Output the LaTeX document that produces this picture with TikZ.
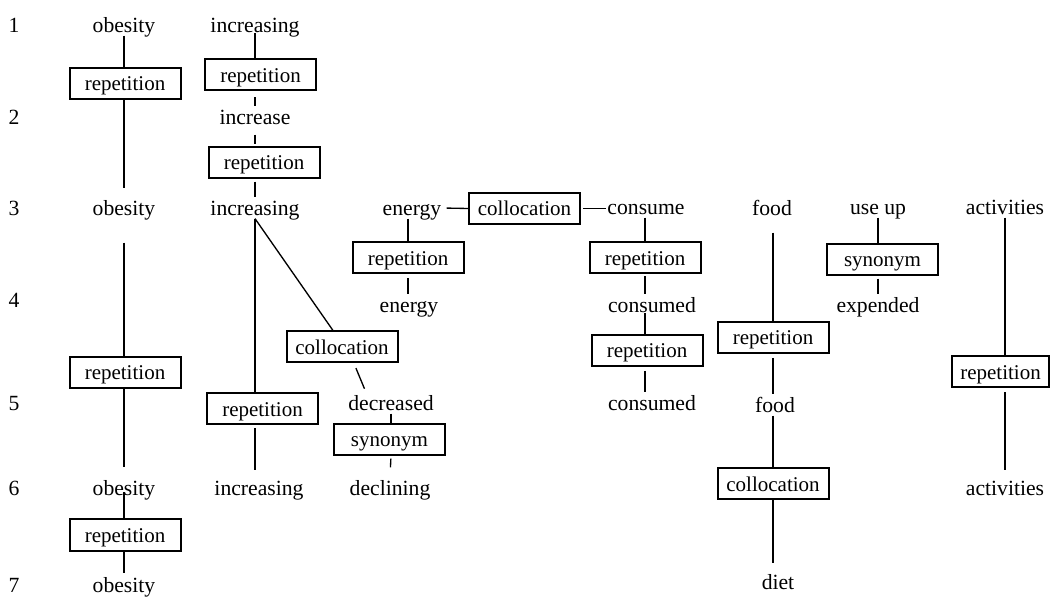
\documentclass[tikz,border=0pt]{standalone}
\usepackage{fontspec}
\setmainfont{Liberation Serif}
\begin{document}
\begin{tikzpicture}[x=0.75pt,y=-0.75pt,
  word/.style={inner sep=0.75pt, text height=13pt, text depth=1pt, font=\fontsize{16.25}{18}\selectfont},
  rel/.style={draw, line width=1.5pt, minimum width=83.25pt, minimum height=23.25pt, inner sep=0pt,
              text height=12.7pt, text depth=1.5pt, font=\fontsize{15.75}{18}\selectfont},
  link/.style={line width=1pt}]
\useasboundingbox (0,0) rectangle (1050,598);
% row numbers
\node[word] (n1) at (14,25) {1};
\node[word] (n2) at (14,117) {2};
\node[word] (n3) at (14,208) {3};
\node[word] (n4) at (14,300) {4};
\node[word] (n5) at (14,403) {5};
\node[word] (n6) at (14,488) {6};
\node[word] (n7) at (14,584) {7};
% words
\node[word] (ob1) at (124,25) {obesity};
\node[word] (ob3) at (124,208) {obesity};
\node[word] (ob6) at (124,487) {obesity};
\node[word] (ob7) at (124,584) {obesity};
\node[word] (in1) at (255,25) {increasing};
\node[word] (ie2) at (255,117) {increase};
\node[word] (in3) at (255,208) {increasing};
\node[word] (in6) at (259,487) {increasing};
\node[word] (dc5) at (391,403) {decreased};
\node[word] (dl6) at (390,487) {declining};
\node[word] (en3) at (412,208) {energy};
\node[word] (en4) at (409,305) {energy};
\node[word] (cs3) at (646,207) {consume};
\node[word] (cd4) at (652,305) {consumed};
\node[word] (cd5) at (652,403) {consumed};
\node[word] (fd3) at (772,208) {food};
\node[word] (fd5) at (775,405) {food};
\node[word] (dt7) at (778,581) {diet};
\node[word] (uu3) at (878,207) {use up};
\node[word] (ex4) at (878,305) {expended};
\node[word] (ac3) at (1005,207) {activities};
\node[word] (ac6) at (1005,487) {activities};
% relation boxes
\node[rel] (r1) at (125,83.5) {repetition};
\node[rel] (r2) at (260.5,75) {repetition};
\node[rel] (r3) at (264,162.5) {repetition};
\node[rel] (r4) at (125,372.5) {repetition};
\node[rel] (r5) at (262.5,409) {repetition};
\node[rel] (co1) at (342,347) {collocation};
\node[rel] (sy1) at (389.5,439.5) {synonym};
\node[rel] (r6) at (125,535) {repetition};
\node[rel] (co2) at (524.5,208.5) {collocation};
\node[rel] (r7) at (408,258) {repetition};
\node[rel] (r8) at (645,258) {repetition};
\node[rel] (r9) at (647,350.5) {repetition};
\node[rel] (r10) at (773,337.5) {repetition};
\node[rel] (co3) at (773,484) {collocation};
\node[rel] (sy2) at (882.5,259.5) {synonym};
\node[rel, minimum width=72.75pt] (r11) at (1000.5,372) {repetition};
% connectors: obesity column
\draw[link] (ob1.south) -- (ob1.south |- r1.north);
\draw[link, shorten >=6.75pt] (ob1.south |- r1.south) -- (ob3.north);
\draw[link, shorten <=18pt] (ob3.south) -- (ob3.south |- r4.north);
\draw[link, shorten >=6.75pt] (ob3.south |- r4.south) -- (ob6.north);
\draw[link, shorten <=-4pt] (ob6.south) -- (ob6.south |- r6.north);
\draw[link] (ob6.south |- r6.south) -- (ob7.north);
% increasing column
\draw[link, shorten <=-2pt] (in1.south) -- (in1.south |- r2.north);
\draw[link, shorten <=4.5pt] (in1.south |- r2.south) -- (ie2.north);
\draw[link, shorten <=5.25pt, shorten >=1.5pt] (ie2.south) -- (ie2.south |- r3.north);
\draw[link, shorten <=2pt] (ie2.south |- r3.south) -- (in3.north);
\draw[link] (in3.south) -- (in3.south |- r5.north);
\draw[link] (in3.south) -- ([xshift=-6.75pt]co1.north);
\draw[link, shorten <=2pt, shorten >=4.5pt] (in3.south |- r5.south) -- (in3.south |- in6.north);
\draw[link, shorten <=3.75pt, shorten >=3pt] ([xshift=9pt]co1.south) -- ([xshift=-18.75pt]dc5.north);
\draw[link] (dc5.south) -- (dc5.south |- sy1.north);
\draw[link, shorten <=2pt, shorten >=6.75pt] (dc5.south |- sy1.south) -- (dl6.north);
% energy / consume
\draw[link, shorten <=3pt] (en3.east) -- (co2.west);
\draw[link, shorten <=1.5pt] (co2.east) -- (co2.east -| cs3.west);
\draw[link] (r7.north |- en3.south) -- (r7.north);
\draw[link, shorten <=3pt] (r7.south) -- (r7.south |- en4.north);
\draw[link] (cs3.south -| r8.north) -- (r8.north);
\draw[link, shorten <=1.5pt] (r8.south) -- (r8.south |- cd4.north);
\draw[link, shorten <=-2pt] (r8.south |- cd4.south) -- (r8.south |- r9.north);
\draw[link, shorten <=3pt] (r8.south |- r9.south) -- (r8.south |- cd5.north);
% food
\draw[link, shorten <=10.5pt] (fd3.south -| r10.north) -- (r10.north);
\draw[link, shorten <=3pt] (r10.south) -- (r10.south |- fd5.north);
\draw[link] (r10.south |- fd5.south) -- (co3.north);
\draw[link, shorten >=5.25pt] (co3.south) -- (co3.south |- dt7.north);
% use up
\draw[link] (uu3.south) -- (uu3.south |- sy2.north);
\draw[link, shorten <=2pt] (uu3.south |- sy2.south) -- (ex4.north);
% activities
\draw[link] (ac3.south) -- (ac3.south |- r11.north);
\draw[link, shorten <=3pt, shorten >=4.5pt] (ac3.south |- r11.south) -- (ac6.north);
\end{tikzpicture}
\end{document}
